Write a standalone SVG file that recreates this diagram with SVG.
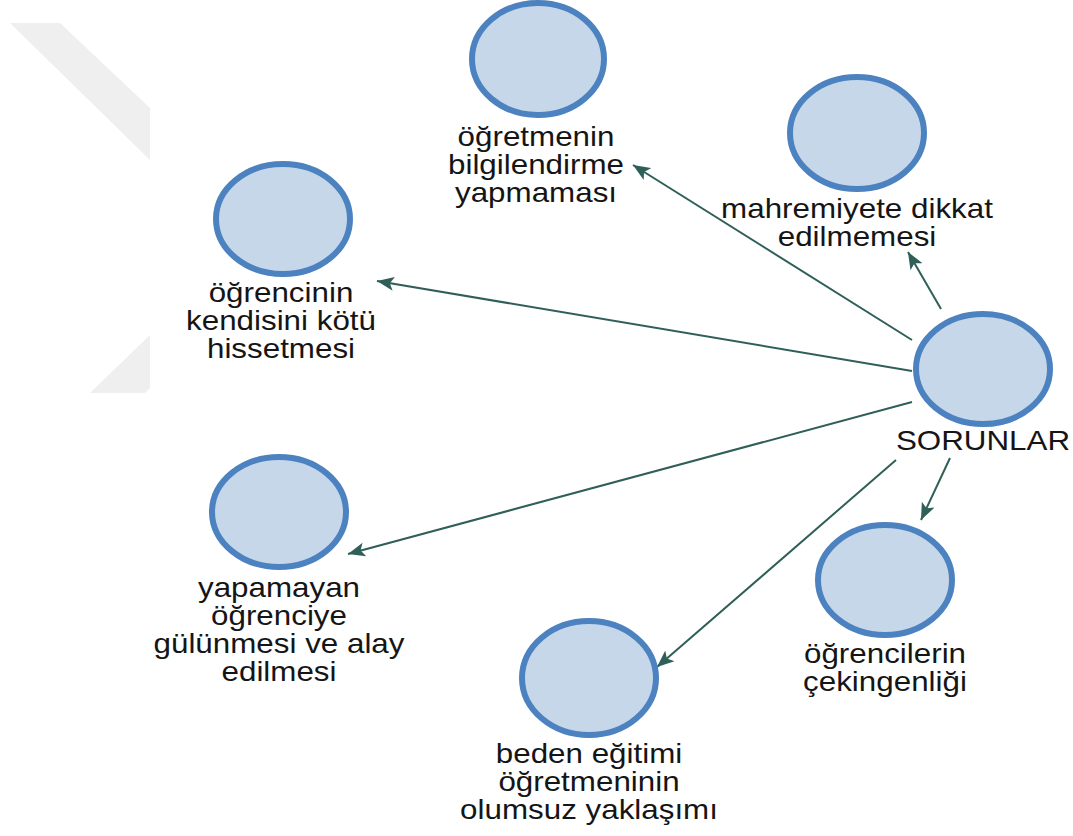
<svg xmlns="http://www.w3.org/2000/svg" width="1073" height="836" viewBox="0 0 1073 836">
  <style>
    .node ellipse { fill: #c6d7ea; stroke: #4d82c0; stroke-width: 6; }
    .node text { font-family: "Liberation Sans", Arial, sans-serif; font-size: 28px; fill: #151515; text-anchor: middle; }
    .edge { stroke: #2f5f58; stroke-width: 2; fill: none; marker-end: url(#arrow); }
    .mark { fill: #efefef; }
  </style>
  <defs>
    <marker id="arrow" markerUnits="userSpaceOnUse" markerWidth="20" markerHeight="16" refX="17" refY="8" orient="auto">
      <path d="M0,1 L17,8 L0,15 L4,8 Z" fill="#2f5f58"/>
    </marker>
  </defs>

  <rect width="1073" height="836" fill="#ffffff"/>

  <!-- faint background chevron -->
  <g id="backdrop">
    <polygon class="mark" points="10,23 60,23 150,108 150,160"/>
    <polygon class="mark" points="150,335 150,388 145,393 90,393"/>
  </g>

  <!-- connectors from the central node -->
  <g id="connectors">
    <line class="edge" x1="912" y1="340" x2="633" y2="165"/>
    <line class="edge" x1="941" y1="309" x2="908" y2="252"/>
    <line class="edge" x1="912" y1="371" x2="377" y2="281"/>
    <line class="edge" x1="912" y1="402" x2="348" y2="554"/>
    <line class="edge" x1="896" y1="460" x2="657" y2="667"/>
    <line class="edge" x1="950" y1="458" x2="921" y2="520"/>
  </g>

  <g id="node-sorunlar" class="node">
    <ellipse cx="983" cy="369" rx="67" ry="55"/>
    <g transform="matrix(1.12 0 0 1 983 0)">
      <text x="0" y="450">SORUNLAR</text>
    </g>
  </g>

  <g id="node-bilgilendirme" class="node">
    <ellipse cx="538" cy="59" rx="66" ry="56"/>
    <g transform="matrix(1.12 0 0 1 536 0)">
      <text x="0" y="146">öğretmenin</text>
      <text x="0" y="174">bilgilendirme</text>
      <text x="0" y="202">yapmaması</text>
    </g>
  </g>

  <g id="node-mahremiyet" class="node">
    <ellipse cx="857" cy="133" rx="67" ry="56"/>
    <g transform="matrix(1.12 0 0 1 857 0)">
      <text x="0" y="218">mahremiyete dikkat</text>
      <text x="0" y="246">edilmemesi</text>
    </g>
  </g>

  <g id="node-kendini-kotu" class="node">
    <ellipse cx="283" cy="219" rx="67" ry="55"/>
    <g transform="matrix(1.12 0 0 1 281 0)">
      <text x="0" y="302">öğrencinin</text>
      <text x="0" y="330">kendisini kötü</text>
      <text x="0" y="358">hissetmesi</text>
    </g>
  </g>

  <g id="node-alay" class="node">
    <ellipse cx="279" cy="512" rx="67" ry="55"/>
    <g transform="matrix(1.12 0 0 1 279 0)">
      <text x="0" y="597">yapamayan</text>
      <text x="0" y="625">öğrenciye</text>
      <text x="0" y="653">gülünmesi ve alay</text>
      <text x="0" y="681">edilmesi</text>
    </g>
  </g>

  <g id="node-olumsuz-yaklasim" class="node">
    <ellipse cx="589" cy="678" rx="67" ry="57"/>
    <g transform="matrix(1.12 0 0 1 589 0)">
      <text x="0" y="763">beden eğitimi</text>
      <text x="0" y="791">öğretmeninin</text>
      <text x="0" y="819">olumsuz yaklaşımı</text>
    </g>
  </g>

  <g id="node-cekingenlik" class="node">
    <ellipse cx="885" cy="580" rx="67" ry="55"/>
    <g transform="matrix(1.12 0 0 1 885 0)">
      <text x="0" y="663">öğrencilerin</text>
      <text x="0" y="691">çekingenliği</text>
    </g>
  </g>
</svg>
